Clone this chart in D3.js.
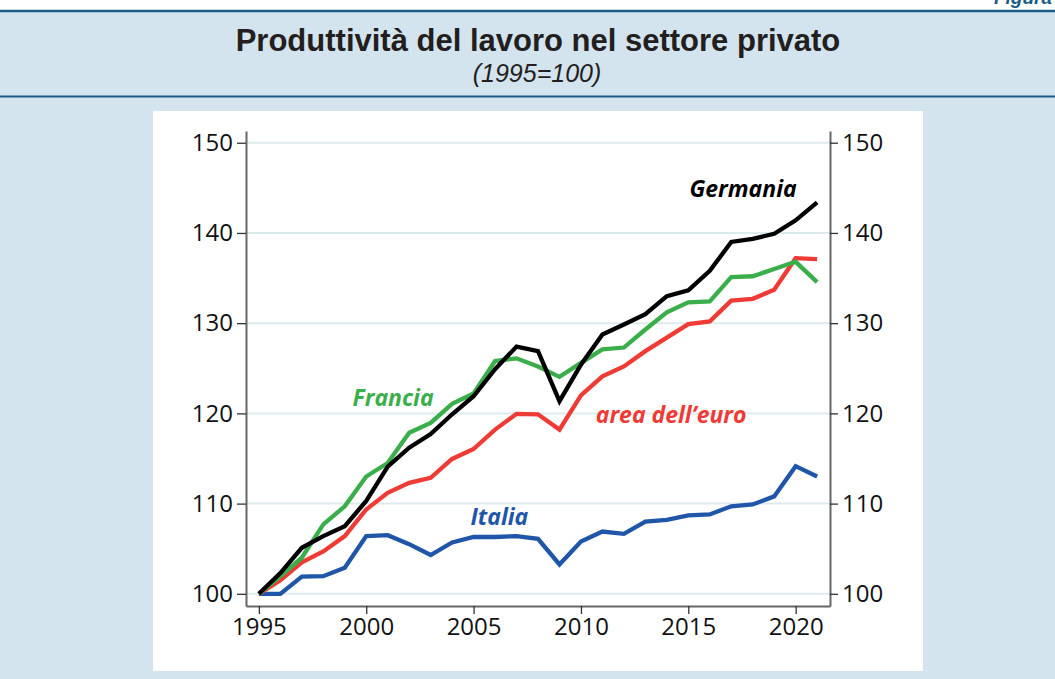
<!DOCTYPE html>
<html><head><meta charset="utf-8">
<script src="https://cdn.jsdelivr.net/npm/d3@7"></script>
<style>body{margin:0;background:#fff}svg{display:block}</style>
</head><body>
<script>
const years = d3.range(1995, 2022);
const germania = [100,102.3,105.1,106.4,107.5,110.3,114.1,116.2,117.7,119.9,121.9,124.9,127.4,126.9,121.35,125.4,128.75,129.85,131.0,133.0,133.65,135.8,139.0,139.35,139.9,141.4,143.4];
const francia  = [100,101.95,104.0,107.7,109.7,113.0,114.5,117.85,118.95,121.05,122.2,125.8,126.1,125.2,124.05,125.6,127.1,127.3,129.3,131.2,132.3,132.4,135.1,135.2,136.0,136.8,134.55];
const euro     = [100,101.5,103.5,104.7,106.4,109.35,111.2,112.3,112.85,114.95,116.05,118.2,119.95,119.9,118.2,122.0,124.1,125.2,126.9,128.4,129.9,130.2,132.5,132.7,133.7,137.2,137.1];
const italia   = [100,100,101.9,101.95,102.9,106.4,106.5,105.5,104.3,105.7,106.3,106.3,106.4,106.1,103.25,105.8,106.9,106.65,108.0,108.2,108.7,108.8,109.7,109.9,110.8,114.15,113.0];
const seriesNames = ["Germania","Francia","area dell\u2019euro","Italia"];
const yTicks = [100,110,120,130,140,150];
const xTicks = [1995,2000,2005,2010,2015,2020];
const titleText = "Produttivit\u00e0 del lavoro nel settore privato";
const subtitleText = "(1995=100)";

const W = 1055, H = 679;
const svg = d3.select("body").append("svg").attr("width", W).attr("height", H);

// background & header
svg.append("rect").attr("x",0).attr("y",0).attr("width",W).attr("height",H).attr("fill","#fff");
svg.append("rect").attr("x",0).attr("y",11).attr("width",W).attr("height",H-11).attr("fill","#d3e4ee");
svg.append("line").attr("x1",0).attr("x2",W).attr("y1",11).attr("y2",11).attr("stroke","#1a5c87").attr("stroke-width",2.5);
svg.append("line").attr("x1",0).attr("x2",W).attr("y1",96.5).attr("y2",96.5).attr("stroke","#1a5c87").attr("stroke-width",2);
svg.append("text").attr("x",1052).attr("y",4).attr("text-anchor","end")
  .attr("font-family","Liberation Sans, Arial, sans-serif").attr("font-weight","bold").attr("font-style","italic")
  .attr("font-size",19).attr("fill","#1a5c87").text("Figura");
svg.append("text").attr("x",538).attr("y",51).attr("text-anchor","middle")
  .attr("font-family","Liberation Sans, Arial, sans-serif").attr("font-weight","bold")
  .attr("font-size",31).attr("fill","#231f20").text(titleText);
svg.append("text").attr("x",537).attr("y",82).attr("text-anchor","middle")
  .attr("font-family","Liberation Sans, Arial, sans-serif").attr("font-style","italic")
  .attr("font-size",25).attr("fill","#231f20").text(subtitleText);

// white panel
svg.append("rect").attr("x",153).attr("y",111).attr("width",770).attr("height",560).attr("fill","#fff");

const x = d3.scaleLinear().domain([1994.4, 2021.6]).range([246, 830]);
const y = d3.scaleLinear().domain([98.65, 151.3]).range([606, 131]);

// gridlines
svg.append("g").selectAll("line").data(yTicks).join("line")
  .attr("x1", x(1994.4)).attr("x2", x(2021.6))
  .attr("y1", d => y(d)).attr("y2", d => y(d))
  .attr("stroke", "#deebee").attr("stroke-width", 2);

const fontAxis = "Open Sans, Noto Sans, sans-serif";
function styleAxis(g){
  g.select(".domain").attr("stroke","#666").attr("stroke-width",2);
  g.selectAll(".tick line").attr("stroke","#333").attr("stroke-width",1.3);
  g.selectAll(".tick text").attr("font-family",fontAxis).attr("font-size",24).attr("fill","#111");
}
svg.append("g").attr("transform",`translate(${x(1994.4)},0)`)
  .call(d3.axisLeft(y).tickValues(yTicks).tickSize(9).tickPadding(4).tickSizeOuter(0)).call(styleAxis);
svg.append("g").attr("transform",`translate(${x(2021.6)},0)`)
  .call(d3.axisRight(y).tickValues(yTicks).tickSize(8).tickPadding(4).tickSizeOuter(0)).call(styleAxis);
svg.append("g").attr("transform",`translate(0,${y(98.65)})`)
  .call(d3.axisBottom(x).tickValues(xTicks).tickFormat(d3.format("d")).tickSize(8).tickPadding(4).tickSizeOuter(0)).call(styleAxis);

// lines
const line = d3.line().x((d,i) => x(years[i])).y(d => y(d));
const seriesData = [
  {name: seriesNames[3], values: italia, color: "#1f56a8"},
  {name: seriesNames[2], values: euro, color: "#ee3b35"},
  {name: seriesNames[1], values: francia, color: "#3aae4a"},
  {name: seriesNames[0], values: germania, color: "#000000"}
];
svg.append("g").selectAll("path").data(seriesData).join("path")
  .attr("d", d => line(d.values)).attr("fill","none")
  .attr("stroke", d => d.color).attr("stroke-width", 4.3).attr("stroke-linejoin","miter");

// labels
const labels = [
  {text: seriesNames[0], color:"#000000", yr: 2017.55, v: 143.95},
  {text: seriesNames[1], color:"#3aae4a", yr: 2001.25, v: 120.85},
  {text: seriesNames[2], color:"#ee3b35", yr: 2014.2, v: 118.93},
  {text: seriesNames[3], color:"#1f56a8", yr: 2006.2, v: 107.63}
];
svg.append("g").selectAll("text").data(labels).join("text")
  .attr("x", d => x(d.yr)).attr("y", d => y(d.v)).attr("text-anchor","middle")
  .attr("font-family", fontAxis).attr("font-weight","bold").attr("font-style","italic")
  .attr("font-size", 23).attr("fill", d => d.color).text(d => d.text);
</script>
</body></html>
